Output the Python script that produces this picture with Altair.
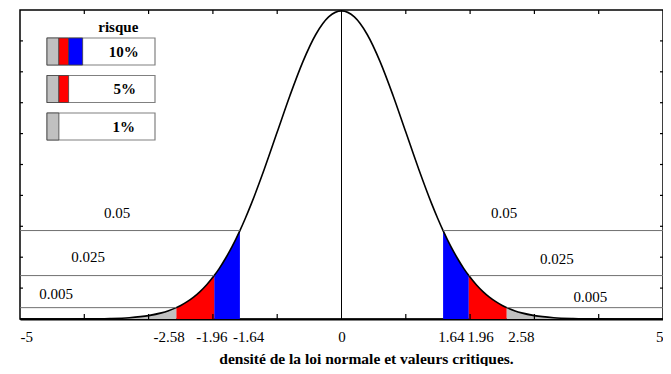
import altair as alt
import pandas as pd

# ---- data ----
z_pos = [0, 0.2, 0.4, 0.6, 0.8, 1.0, 1.2, 1.4, 1.5, 1.58, 1.7, 1.8, 1.9, 1.98,
         2.1, 2.2, 2.3, 2.4, 2.5, 2.57, 2.7, 2.8, 3.0, 3.3, 3.6, 4.0, 4.5, 5.0]
dens_pos = [0.3989, 0.3910, 0.3683, 0.3332, 0.2897, 0.2420, 0.1942, 0.1497, 0.1295,
            0.1145, 0.0940, 0.0790, 0.0656, 0.0562, 0.0440, 0.0355, 0.0283, 0.0224,
            0.0175, 0.0147, 0.0104, 0.0079, 0.0044, 0.0017, 0.0006, 0.0001, 0.0, 0.0]

shade_bounds = [1.58, 1.98, 2.57, 5.0]
shade_colors = ["#0000ff", "#ff0000", "#c0c0c0"]

tick_values = [-5, -2.58, -1.96, -1.64, 0, 1.64, 1.96, 2.58, 5]
tick_align = ["left", "center", "center", "center", "center", "center", "center", "center", "right"]
tick_shift = [0, -7, -4, 12, 0, 4, 12.5, 13.5, 0]
inner_x_ticks = [-4, -3, -2, -1, 1, 2, 3, 4]
inner_y_ticks = [0.04, 0.08, 0.12, 0.16, 0.20, 0.24, 0.28, 0.32, 0.36]

risk_text = ["0.05", "0.025", "0.005"]
line_heights = [0.1145, 0.0562, 0.0147]
line_ends = [1.58, 1.98, 2.57]
lab_x_left = [-3.49, -3.94, -4.44]
lab_y_left = [0.137, 0.080, 0.032]
lab_x_right = [2.53, 3.35, 3.87]
lab_y_right = [0.137, 0.078, 0.028]

legend_rows = ["10%", "5%", "1%"]
legend_colors = [["#c0c0c0", "#ff0000", "#0000ff"], ["#c0c0c0", "#ff0000"], ["#c0c0c0"]]
seg_edges = [0, 11, 20, 33]

# ---- tables ----
xs = [-z for z in reversed(z_pos[1:])] + z_pos
ys = list(reversed(dens_pos[1:])) + dens_pos
curve = pd.DataFrame({"x": xs, "y": ys})

zrows = []
for side, sgn in (("L", -1), ("R", 1)):
    for i, col in enumerate(shade_colors):
        lo, hi = shade_bounds[i], shade_bounds[i + 1]
        for z, d in zip(z_pos, dens_pos):
            if lo <= z <= hi:
                zrows.append({"x": sgn * z, "y": d, "c": col, "zone": f"{side}{i}"})
zones = pd.DataFrame(zrows)

lrows = []
for e, h in zip(line_ends, line_heights):
    lrows.append({"xs": -5, "xe": -e, "h": h})
    lrows.append({"xs": e, "xe": 5, "h": h})
hlines = pd.DataFrame(lrows)

labs = pd.DataFrame({
    "x": lab_x_left + lab_x_right,
    "y": lab_y_left + lab_y_right,
    "t": risk_text + risk_text,
})

box_df = pd.DataFrame({"row": legend_rows, "a": [0] * 3, "b": [100] * 3})
srows = []
for r, cols in zip(legend_rows, legend_colors):
    for j, c in enumerate(cols):
        srows.append({"row": r, "a": seg_edges[j], "b": seg_edges[j + 1], "c": c})
seg_df = pd.DataFrame(srows)
ltext = pd.DataFrame({"row": legend_rows, "tx": [71, 72, 71]})
risque_df = pd.DataFrame({"tx": [66], "t": ["risque"]})

W, H = 643, 309
FONT = "Liberation Serif"
X = alt.Scale(domain=[-5, 5], nice=False, zero=False)
Y = alt.Scale(domain=[0, 0.4], nice=False)

align_cond = [{"test": f"datum.value == {v}", "value": a}
              for v, a in zip(tick_values, tick_align) if a != "center"]
shift_cond = [{"test": f"datum.value == {v}", "value": s}
              for v, s in zip(tick_values, tick_shift) if s != 0]

xaxis = alt.Axis(
    values=tick_values,
    labelExpr="'' + datum.value",
    labelAlign={"condition": align_cond, "value": "center"},
    labelOffset={"condition": shift_cond, "value": 0},
    labelOverlap=False, labelFlush=False, labelBound=False,
    ticks=False, grid=False,
    domainColor="black", domainWidth=2,
    labelFont=FONT, labelFontSize=15, labelColor="black", labelPadding=10,
    title="densité de la loi normale et valeurs critiques.",
    titleFont=FONT, titleFontSize=15.5, titleFontWeight="bold", titleColor="black",
    titleX=346, titleY=44, titleBaseline="alphabetic", titleAlign="center",
)

areas = alt.Chart(zones).mark_area(interpolate="monotone").encode(
    x=alt.X("x:Q", scale=X, axis=xaxis),
    y=alt.Y("y:Q", scale=Y, axis=None, stack=None),
    color=alt.Color("c:N", scale=None),
    detail="zone:N",
)

line = alt.Chart(curve).mark_line(color="black", strokeWidth=1.6, interpolate="monotone").encode(
    x=alt.X("x:Q", scale=X), y=alt.Y("y:Q", scale=Y)
)

hl = alt.Chart(hlines).mark_rule(color="#707070", strokeWidth=1).encode(
    x=alt.X("xs:Q", scale=X), x2="xe:Q", y=alt.Y("h:Q", scale=Y)
)

zero = alt.Chart(pd.DataFrame({"x": [0], "y0": [0], "y1": [0.4]})).mark_rule(
    color="black", strokeWidth=1).encode(
    x=alt.X("x:Q", scale=X), y=alt.Y("y0:Q", scale=Y), y2="y1:Q"
)

xt = pd.DataFrame({"t": inner_x_ticks})
yt = pd.DataFrame({"t": inner_y_ticks})
bt = alt.Chart(xt).mark_rule(color="black", strokeWidth=1.2).encode(
    x=alt.X("t:Q", scale=X), y=alt.value(H), y2=alt.value(H - 5))
tt = alt.Chart(xt).mark_rule(color="black", strokeWidth=1.2).encode(
    x=alt.X("t:Q", scale=X), y=alt.value(0), y2=alt.value(4))
lt = alt.Chart(yt).mark_rule(color="black", strokeWidth=1.2).encode(
    y=alt.Y("t:Q", scale=Y), x=alt.value(0), x2=alt.value(3))
rt = alt.Chart(yt).mark_rule(color="black", strokeWidth=1.2).encode(
    y=alt.Y("t:Q", scale=Y), x=alt.value(W), x2=alt.value(W - 3))

txt = alt.Chart(labs).mark_text(font=FONT, fontSize=15, color="black", baseline="middle").encode(
    x=alt.X("x:Q", scale=X), y=alt.Y("y:Q", scale=Y), text="t:N")

main = alt.layer(areas, line, hl, zero, bt, tt, lt, rt, txt)

LX = alt.Scale(domain=[0, 100], range=[27, 135], nice=False)
LY = alt.Scale(domain=legend_rows, range=[28, 130], paddingInner=0.28, paddingOuter=0)

lbox = alt.Chart(box_df).mark_bar(fill="white", stroke="#808080", strokeWidth=1.2).encode(
    x=alt.X("a:Q", scale=LX, axis=None), x2="b:Q",
    y=alt.Y("row:N", scale=LY, axis=None, sort=legend_rows))
lseg = alt.Chart(seg_df).mark_bar(stroke="#404040", strokeWidth=0.8).encode(
    x=alt.X("a:Q", scale=LX, axis=None), x2="b:Q",
    y=alt.Y("row:N", scale=LY, axis=None, sort=legend_rows),
    color=alt.Color("c:N", scale=None))
ltx = alt.Chart(ltext).mark_text(font=FONT, fontSize=15, fontWeight="bold", color="black",
                                 baseline="middle").encode(
    x=alt.X("tx:Q", scale=LX, axis=None),
    y=alt.Y("row:N", scale=LY, axis=None, sort=legend_rows),
    text="row:N")
lrisk = alt.Chart(risque_df).mark_text(font=FONT, fontSize=15, fontWeight="bold", color="black",
                                       baseline="middle").encode(
    x=alt.X("tx:Q", scale=LX, axis=None), y=alt.value(17), text="t:N")

legend = alt.layer(lbox, lseg, ltx, lrisk)

chart = alt.layer(main, legend).resolve_scale(x="independent", y="independent").properties(
    width=W, height=H,
    padding={"left": 12, "top": 2, "right": 0, "bottom": 47},
    autosize=alt.AutoSizeParams(type="none"),
).configure_view(stroke="black", strokeWidth=1.5)

chart.save("out.html", embed_options={"renderer": "svg", "actions": False})
